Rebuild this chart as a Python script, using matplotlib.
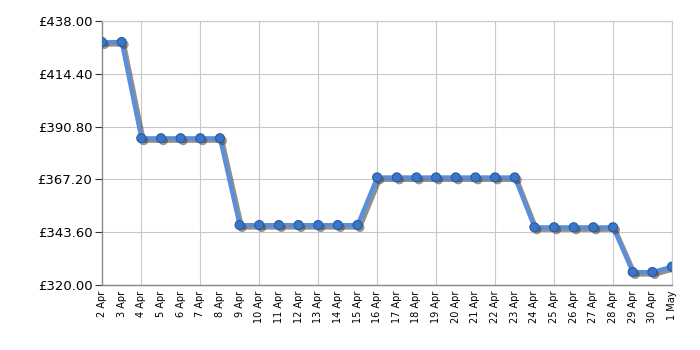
import matplotlib
matplotlib.use("Agg")
import matplotlib.pyplot as plt
import matplotlib.patheffects as pe

dates = ["2 Apr", "3 Apr", "4 Apr", "5 Apr", "6 Apr", "7 Apr", "8 Apr", "9 Apr",
         "10 Apr", "11 Apr", "12 Apr", "13 Apr", "14 Apr", "15 Apr", "16 Apr",
         "17 Apr", "18 Apr", "19 Apr", "20 Apr", "21 Apr", "22 Apr", "23 Apr",
         "24 Apr", "25 Apr", "26 Apr", "27 Apr", "28 Apr", "29 Apr", "30 Apr", "1 May"]
prices = [428.6, 428.6, 385.6, 385.6, 385.6, 385.6, 385.6, 346.8,
          346.8, 346.8, 346.8, 346.8, 346.8, 346.8, 368.1,
          368.1, 368.1, 368.1, 368.1, 368.1, 368.1, 368.1,
          345.8, 345.8, 345.8, 345.8, 345.8, 325.8, 325.8, 328.2]
y_ticks = [320.00, 343.60, 367.20, 390.80, 414.40, 438.00]


def main() -> None:
    fig = plt.figure(figsize=(7, 3.5), dpi=100)
    ax = fig.add_axes([0.1457, 0.1857, 0.8143, 0.7543])

    x = list(range(len(dates)))
    shadow = [pe.SimplePatchShadow(offset=(1.8, -1.8), shadow_rgbFace="#444444", alpha=0.55), pe.Normal()]
    ax.plot(x, prices, color="#5b8fdb", linewidth=3, zorder=3,
            path_effects=[pe.SimpleLineShadow(offset=(1.8, -1.8), shadow_color="#333333", alpha=0.55), pe.Normal()])
    ax.plot(x, prices, linestyle="none", marker="o", markersize=6.5,
            markerfacecolor="#3a76c8", markeredgecolor="#2a5a9c", markeredgewidth=0.8,
            zorder=4, path_effects=shadow)

    ax.set_xlim(0, len(dates) - 1)
    ax.set_ylim(y_ticks[0], y_ticks[-1])
    ax.set_yticks(y_ticks)
    ax.set_yticklabels([f"£{v:.2f}" for v in y_ticks], fontsize=9.5)

    ax.set_xticks(x)
    ax.set_xticklabels(dates, rotation=90, fontsize=7)
    ax.set_xticks(x[2::3], minor=True)
    ax.tick_params(axis="x", which="major", length=0, pad=4)
    ax.tick_params(axis="x", which="minor", length=5, color="#333333", width=0.8)
    ax.tick_params(axis="y", length=5, color="#333333", width=0.8, pad=2)

    ax.grid(False)
    for xi in x[2::3]:
        ax.axvline(xi, color="#c8c8c8", linewidth=0.8, zorder=1)
    for yv in y_ticks:
        ax.axhline(yv, color="#c8c8c8", linewidth=0.8, zorder=1)

    for side in ["top", "right"]:
        ax.spines[side].set_color("#c8c8c8")
        ax.spines[side].set_linewidth(0.8)
    for side in ["left", "bottom"]:
        ax.spines[side].set_color("#888888")
        ax.spines[side].set_linewidth(1.0)

    fig.savefig("out.png", dpi=100)
    plt.close(fig)


if __name__ == "__main__":
    main()
